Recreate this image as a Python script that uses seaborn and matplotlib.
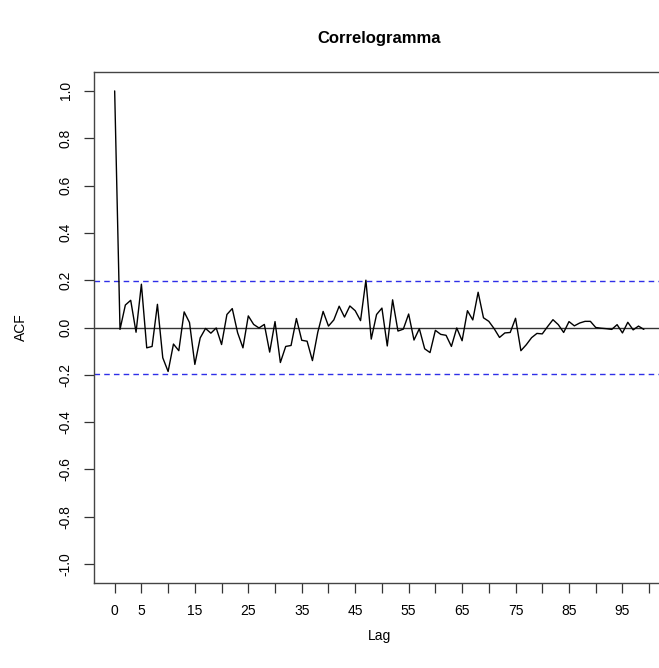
import numpy as np
import pandas as pd
import matplotlib
matplotlib.use("Agg")
import matplotlib.pyplot as plt
import seaborn as sns

# ---- data ----
acf_values = [
    1.000, -0.008, 0.095, 0.115, -0.020, 0.183, -0.086, -0.080, 0.098, -0.128,
    -0.186, -0.070, -0.098, 0.066, 0.021, -0.156, -0.044, -0.004, -0.024, -0.002,
    -0.072, 0.055, 0.080, -0.022, -0.086, 0.049, 0.013, -0.002, 0.013, -0.104,
    0.025, -0.148, -0.080, -0.076, 0.038, -0.054, -0.058, -0.140, -0.020, 0.068,
    0.006, 0.032, 0.090, 0.044, 0.091, 0.071, 0.029, 0.200, -0.049, 0.055,
    0.082, -0.078, 0.117, -0.015, -0.007, 0.057, -0.053, -0.005, -0.090, -0.106,
    -0.012, -0.029, -0.033, -0.080, -0.002, -0.056, 0.071, 0.032, 0.149, 0.041,
    0.026, -0.005, -0.042, -0.023, -0.021, 0.039, -0.098, -0.073, -0.043, -0.025,
    -0.027, 0.004, 0.033, 0.012, -0.021, 0.025, 0.007, 0.019, 0.026, 0.026,
    0.000, -0.003, -0.005, -0.008, 0.012, -0.023, 0.022, -0.010, 0.006, -0.008,
]
lags = list(range(len(acf_values)))
conf_limit = 0.196
x_ticks = list(range(0, 101, 5))
x_tick_labels = ["0", "5", "", "15", "", "25", "", "35", "", "45", "", "55", "",
                 "65", "", "75", "", "85", "", "95", ""]
y_ticks = [-1.0, -0.8, -0.6, -0.4, -0.2, 0.0, 0.2, 0.4, 0.6, 0.8, 1.0]
y_tick_labels = ["-1.0", "-0.8", "-0.6", "-0.4", "-0.2", "0.0", "0.2", "0.4", "0.6", "0.8", "1.0"]
title = "Correlogramma"
x_label = "Lag"
y_label = "ACF"

df = pd.DataFrame({"Lag": lags, "ACF": acf_values})

sns.set_style("white")
plt.rcParams["font.family"] = ["Liberation Sans", "DejaVu Sans"]
plt.rcParams["text.color"] = "black"
plt.rcParams["axes.labelcolor"] = "black"
plt.rcParams["xtick.color"] = "#333333"
plt.rcParams["ytick.color"] = "#333333"
plt.rcParams["xtick.labelcolor"] = "black"
plt.rcParams["ytick.labelcolor"] = "black"

W, H = 659, 668
fig = plt.figure(figsize=(W / 100, H / 100), dpi=100)
left_px, right_px, top_px, bottom_px = 93.5, 665.0, 72.0, 583.0
ax = fig.add_axes([left_px / W, (H - bottom_px) / H,
                   (right_px - left_px) / W, (bottom_px - top_px) / H])

sns.lineplot(data=df, x="Lag", y="ACF", ax=ax, color="black", linewidth=1.0,
             estimator=None, sort=False)
ax.axhline(0, color="#333333", linewidth=1.0, zorder=1)
for c in (conf_limit, -conf_limit):
    ax.axhline(c, color="#2f2fe8", linewidth=1.0, linestyle=(0, (4, 3)), zorder=1)

n = len(lags) - 1
ax.set_xlim(-0.04 * n, n * 1.04)
ax.set_ylim(-1.08, 1.08)

ax.set_xticks(x_ticks)
ax.set_xticklabels(x_tick_labels)
ax.set_yticks(y_ticks)
ax.set_yticklabels(y_tick_labels, rotation=90, va="center")
ax.tick_params(axis="both", direction="out", length=7, width=0.9, color="#333333",
               labelcolor="black", labelsize=10, pad=8, bottom=True, left=True)

for s in ax.spines.values():
    s.set_visible(True)
    s.set_color("#444444")
    s.set_linewidth(1.0)

ax.set_xlabel(x_label, fontsize=10, labelpad=8, color="black")
ax.set_ylabel(y_label, fontsize=10, labelpad=22, color="black")
ax.set_title(title, fontsize=12, fontweight="bold", pad=21, color="black")

fig.savefig("out.png", dpi=100)
